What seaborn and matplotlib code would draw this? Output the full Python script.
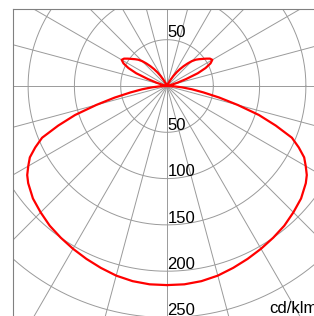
import numpy as np
import pandas as pd
import matplotlib
matplotlib.use("Agg")
import matplotlib.pyplot as plt
import seaborn as sns

# luminous intensity (cd/klm) vs. gamma angle (0 = nadir), symmetric plane
gamma = [0, 5, 10, 15, 20, 25, 30, 35, 40, 45, 50, 55, 57.5, 60, 62.5, 65, 67.5,
         70, 72.5, 75, 77.5, 80, 82.5, 85, 87.5, 90,
         95, 100, 105, 107.5, 110, 112.5, 115, 117.5, 120, 122.5, 125, 127.5,
         130, 132.5, 135, 137.5, 140, 142.5, 145, 147.5, 150, 152.5, 155, 160,
         170, 180]
intensity = [215, 215, 214, 212, 209, 206, 203, 200, 197, 193, 189, 183, 179,
             173, 167, 157, 146, 125, 104, 79, 58, 40, 27, 16, 7, 0,
             0, 0, 5, 12, 22, 36, 46, 53, 56.5, 55, 51.5, 48, 45, 42, 38, 33,
             28, 23, 18, 13, 8, 4, 2, 0, 0, 0]

ring_values = [50, 100, 150, 200, 250, 300, 350]
ring_labels_down = [50, 100, 150, 200, 250]
ring_labels_up = [50]
spoke_angles = list(range(0, 360, 15))
unit_label = "cd/klm"


def polar_frame(g, r, side):
    g = np.radians(np.asarray(g, dtype=float))
    r = np.asarray(r, dtype=float)
    return pd.DataFrame({"x": side * r * np.sin(g), "y": -r * np.cos(g)})


def main():
    sns.set_style("white")
    plt.rcParams["font.family"] = ["Liberation Sans", "DejaVu Sans"]

    W, H = 314, 316
    fig = plt.figure(figsize=(W / 100, H / 100), dpi=100)
    cx, cy, s = 167, 86, 0.926  # centre in px, px per unit
    left_px, top_px, right_px, bottom_px = 13, 9, 321, 330
    ax = fig.add_axes([left_px / W, 1 - bottom_px / H,
                       (right_px - left_px) / W, (bottom_px - top_px) / H])
    ax.set_xlim(-(cx - left_px) / s, (right_px - cx) / s)
    ax.set_ylim(-(bottom_px - cy) / s, (cy - top_px) / s)
    ax.set_xticks([])
    ax.set_yticks([])
    for sp in ax.spines.values():
        sp.set_color("#808080")
        sp.set_linewidth(0.8)

    grid_kw = dict(color="#9a9a9a", linewidth=0.7, zorder=1)
    t = np.linspace(0, 2 * np.pi, 400)
    for rv in ring_values:
        ax.plot(rv * np.cos(t), rv * np.sin(t), **grid_kw)
    for a in spoke_angles:
        ar = np.radians(a)
        ax.plot([0, 400 * np.cos(ar)], [0, 400 * np.sin(ar)], **grid_kw)

    # curve: right half then mirrored left half
    right = polar_frame(gamma, intensity, 1)
    left = polar_frame(gamma[::-1], intensity[::-1], -1)
    curve = pd.concat([right, left], ignore_index=True)
    sns.lineplot(data=curve, x="x", y="y", sort=False, estimator=None,
                 color="#ff0000", linewidth=1.6, ax=ax, zorder=3)

    for rv in ring_labels_down:
        ax.text(0.6, -rv + 2.3, str(rv), ha="left", va="baseline",
                fontsize=12, color="black", zorder=4)
    for rv in ring_labels_up:
        ax.text(0.6, rv + 3.2, str(rv), ha="left", va="baseline",
                fontsize=12, color="black", zorder=4)
    ax.text((269 - cx) / s, -(313 - cy) / s, unit_label, ha="left",
            va="baseline", fontsize=12, color="black", zorder=4, clip_on=False)

    ax.set_xlabel("")
    ax.set_ylabel("")
    fig.savefig("out.png", dpi=100)
    plt.close(fig)


if __name__ == "__main__":
    main()
